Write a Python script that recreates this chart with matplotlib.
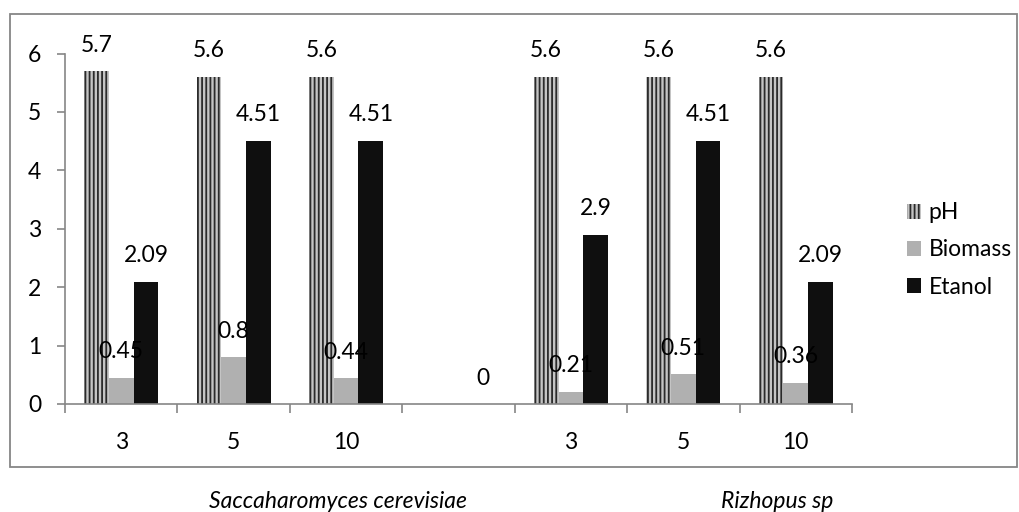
import matplotlib.pyplot as plt
import numpy as np
from matplotlib.patches import Rectangle

plt.rcParams['font.family'] = ['Lato', 'DejaVu Sans']
plt.rcParams['hatch.linewidth'] = 1.3

# dose levels for each organism, blank slot between the two groups
categories = ['3', '5', '10', '', '3', '5', '10']
ph = [5.7, 5.6, 5.6, np.nan, 5.6, 5.6, 5.6]
biomass = [0.45, 0.8, 0.44, np.nan, 0.21, 0.51, 0.36]
etanol = [2.09, 4.51, 4.51, 0, 2.9, 4.51, 2.09]
groups = ['Saccaharomyces cerevisiae', 'Rizhopus sp']

fs = 16.5
axis_col = '#868686'

fig = plt.figure(figsize=(10.19, 5.12), dpi=100)
ax = fig.add_axes([65 / 1019, 108 / 512, (852 - 65) / 1019, (404 - 53.5) / 512])

x = np.arange(len(categories))
w = 0.22

b1 = ax.bar(x - w, ph, w, color='#c4c4c4', edgecolor='#2a2a2a',
            linewidth=0, hatch='||||', label='pH')
b2 = ax.bar(x, biomass, w, color='#b0b0b0', linewidth=0, label='Biomass')
b3 = ax.bar(x + w, etanol, w, color='#0f0f0f', linewidth=0, label='Etanol')

for bars, vals in [(b1, ph), (b2, biomass), (b3, etanol)]:
    for rect, v in zip(bars, vals):
        if np.isnan(v):
            continue
        ax.annotate('%g' % v, (rect.get_x() + rect.get_width() / 2, v),
                    xytext=(0, 18.7), textcoords='offset points',
                    ha='center', va='center', fontsize=fs)

ax.set_xlim(-0.5, len(categories) - 0.5)
ax.set_ylim(0, 6)
ax.set_yticks(range(0, 7))
ax.set_xticks(x)
ax.set_xticklabels(categories)
ax.set_xticks(np.arange(-0.5, len(categories)), minor=True)
ax.tick_params(axis='x', which='major', length=0, pad=20, labelsize=fs)
ax.tick_params(axis='x', which='minor', length=6.5, color=axis_col, width=1.2)
ax.tick_params(axis='y', length=6, color=axis_col, width=1.2, pad=11,
               labelsize=fs)

for s in ['top', 'right']:
    ax.spines[s].set_visible(False)
for s in ['left', 'bottom']:
    ax.spines[s].set_color(axis_col)
    ax.spines[s].set_linewidth(1.2)

leg = fig.legend(handles=[b1, b2, b3], loc='center left',
                 bbox_to_anchor=(886 / 1019, 1 - 250 / 512), frameon=False,
                 fontsize=fs, handlelength=0.62, handleheight=0.62,
                 handletextpad=0.35, labelspacing=0.7)

fig.text(338 / 1019, 1 - 502 / 512, groups[0], ha='center', va='center',
         fontsize=fs, style='italic')
fig.text(777 / 1019, 1 - 502 / 512, groups[1], ha='center', va='center',
         fontsize=fs, style='italic')

# chart area border
fig.patches.append(Rectangle((10 / 1019, 1 - 467 / 512), 1007 / 1019,
                             453 / 512, transform=fig.transFigure,
                             fill=False, edgecolor=axis_col, linewidth=1.3))

fig.savefig('out.png', dpi=100)
